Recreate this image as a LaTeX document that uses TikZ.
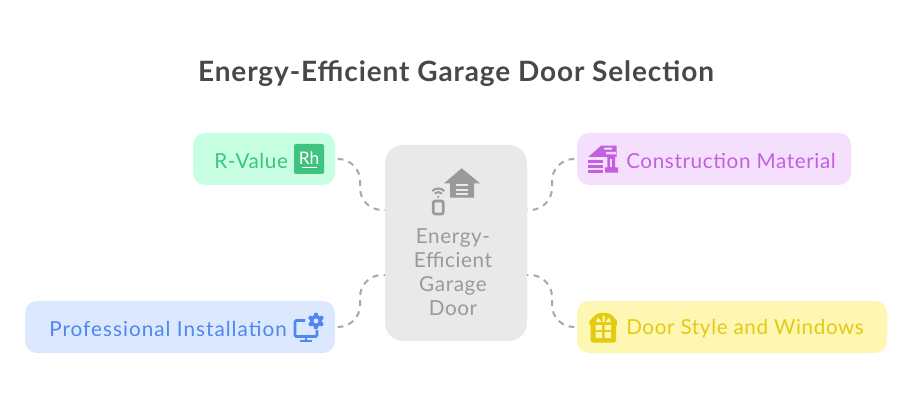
\documentclass[tikz,border=0pt]{standalone}
\usepackage{fontspec}
\setmainfont[LetterSpace=3]{Lato}
\definecolor{mainfill}{HTML}{E9E9E9}
\definecolor{maintext}{HTML}{9A9A9A}
\definecolor{titletext}{HTML}{484848}
\definecolor{linkgray}{HTML}{A8A8A8}
\definecolor{greenfill}{HTML}{C6FFE2}
\definecolor{greentext}{HTML}{3EC47E}
\definecolor{purplefill}{HTML}{F4DFFD}
\definecolor{purpletext}{HTML}{C45FE0}
\definecolor{bluefill}{HTML}{DBE8FE}
\definecolor{bluetext}{HTML}{4F86F0}
\definecolor{yellowfill}{HTML}{FEF7B3}
\definecolor{yellowtext}{HTML}{E2CB10}
\tikzset{
  box/.style={rectangle,rounded corners=9pt,minimum height=39pt,inner sep=0pt},
  label/.style={font=\fontsize{15.5}{18}\selectfont,inner sep=0pt,anchor=west},
  link/.style={linkgray,line width=1.5pt,dash pattern=on 4.5pt off 4pt,rounded corners=16.5pt,shorten <=2.5pt}
}
\begin{document}
\begin{tikzpicture}[x=0.75pt,y=-0.75pt]
\useasboundingbox (0,0) rectangle (912,402);
\fill[white] (0,0) rectangle (912,402);
\node[font=\fontsize{21}{24}\selectfont\bfseries\addfontfeature{LetterSpace=3.2},text=titletext] (title) at (456,74) {Energy-Efficient Garage Door Selection};

\node[box,rounded corners=13.5pt,fill=mainfill,minimum width=106.5pt,minimum height=147pt] (main) at (456,243) {};
\node[box,fill=greenfill,minimum width=106.5pt] (rvalue) at (264,159) {};
\node[box,fill=purplefill,minimum width=205.5pt] (material) at (714,159) {};
\node[box,fill=bluefill,minimum width=232.5pt] (install) at (180,327) {};
\node[box,fill=yellowfill,minimum width=232.5pt] (doorstyle) at (732,327) {};

\node[font=\fontsize{15.5}{18}\selectfont,text=maintext,align=center,anchor=north] (mainlabel) at (453,224) {Energy-\\Efficient\\Garage\\Door};
\node[label,text=greentext] (rvaluelabel) at (214,161) {R-Value};
\node[label,text=purpletext] (materiallabel) at (626,161) {Construction Material};
\node[label,font=\fontsize{15.5}{18}\selectfont\addfontfeature{LetterSpace=5},text=bluetext] (installlabel) at (49,329) {Professional Installation};
\node[label,text=yellowtext] (doorlabel) at (626,329) {Door Style and Windows};

\coordinate (mainrv) at (385,210);
\coordinate (mainmat) at (527,210);
\coordinate (mainin) at (385,275);
\coordinate (maindoor) at (527,275);
\draw[link] (rvalue.east) -| (360,210) -- (mainrv);
\draw[link] (material.west) -| (552,210) -- (mainmat);
\draw[link] (install.east) -| (360,275) -- (mainin);
\draw[link] (doorstyle.west) -| (552,275) -- (maindoor);

% garage and remote
\fill[maintext] (461.7,168.3) -- (480,183.3) -- (474,183.3) -- (474,197.7) -- (450,197.7) -- (450,183.3) -- (444,183.3) -- cycle;
\foreach \y in {184.5,189,193.5} \fill[mainfill] (456,\y) rectangle (468.3,\y+2);
\draw[maintext,line width=2pt,rounded corners=1.5pt] (433.3,201) rectangle (443.3,214);
\draw[maintext,line width=1.5pt] (434.8,193.5) arc (225:315:5);
\draw[maintext,line width=1.5pt] (432.3,191) arc (225:315:8.5);
\fill[maintext] (438.3,196.8) circle (1.2);

% rh tile
\fill[greentext,rounded corners=1.5pt] (294,144) rectangle (324,174);
\node[font=\fontsize{13}{14}\selectfont\addfontfeature{LetterSpace=0},text=white,inner sep=0pt] (rhlabel) at (309,158) {Rh};
\draw[white,line width=1pt] (301.7,167.3) -- (316.6,167.3);

% brick house
\fill[purpletext] (588.3,157) -- (601,145.7) -- (616.7,145.7) -- (616.7,157) -- cycle;
\fill[purplefill] (604,147.7) rectangle (612,149.7) (606,152) rectangle (616,154.3);
\fill[purpletext] (607.3,157) rectangle (615,167.5) (605,167.5) rectangle (618,172.7);
\fill[purplefill] (610,159.5) rectangle (612,167.5);
\foreach \y in {160,165,170} \fill[purpletext] (588.3,\y) rectangle (603,\y+2.7);

% gear and monitor
\draw[bluetext,line width=2pt,rounded corners=1pt] (305,320.5) -- (295,320.5) -- (295,336.5) -- (317,336.5) -- (317,330);
\draw[bluetext,line width=2pt] (306,336.5) -- (306,341) (300,341) -- (312,341);
\fill[bluetext] (316,321) circle (6);
\foreach \a in {30,90,...,330} \fill[bluetext] (316,321) ++(\a:6.2) circle (2.2);
\fill[bluefill] (316,321) circle (2.4);

% window
\fill[yellowtext,rounded corners=1.5pt] (590.7,342.5) -- (590.7,325) -- (588.3,322) -- (592,319) .. controls (595,314.5) and (599,312.8) .. (603.5,312.8) .. controls (608,312.8) and (612,314.5) .. (615,319) -- (618.3,322) -- (616,325) -- (616,342.5) -- cycle;
\fill[yellowfill] (595.5,325) rectangle (602,330) (604.5,325) rectangle (611,330) (595.5,332) rectangle (602,338) (604.5,332) rectangle (611,338);
\fill[yellowfill] (596,322) -- (598,317.5) -- (601.5,322) -- cycle (602.5,322) -- (602.5,315.5) -- (604.5,315.5) -- (604.5,322) -- cycle (605.5,322) -- (609,317.5) -- (611,322) -- cycle;
\end{tikzpicture}
\end{document}
